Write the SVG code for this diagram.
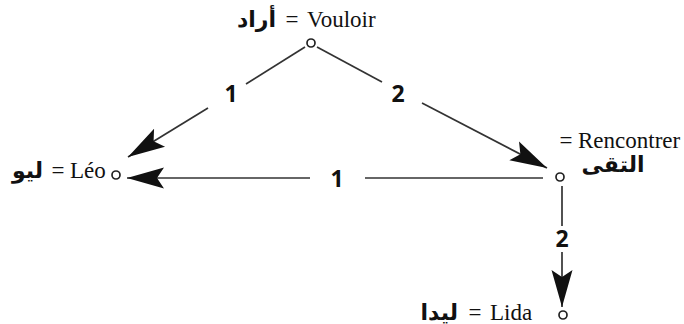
<svg xmlns="http://www.w3.org/2000/svg" width="684" height="324" viewBox="0 0 684 324">
<style>
.lat{font-family:"Liberation Serif","Times New Roman",serif;font-size:23px;fill:#111}
.ar{font-family:"DejaVu Sans",sans-serif;font-weight:bold;font-size:22px;fill:#111}
.num{font-family:"Open Sans","Liberation Sans",sans-serif;font-weight:bold;font-size:23px;fill:#111;text-anchor:middle}
.edge{stroke:#333;stroke-width:1.7;fill:none}
.node{fill:#fff;stroke:#222;stroke-width:1.7}
</style>
<defs>
<marker id="ah" markerUnits="userSpaceOnUse" orient="auto" refX="0" refY="0" markerWidth="44" markerHeight="26" viewBox="-40 -13 44 26" overflow="visible">
<path d="M0,0 L-37,-10.5 L-30,0 L-37,10.5 Z" fill="#111"/>
</marker>
</defs>
<rect width="684" height="324" fill="#fff"/>
<g id="connectors">
<g id="e-vouloir-leo">
<line class="edge" x1="305" y1="47" x2="246" y2="84"/>
<line class="edge" x1="208" y1="108" x2="128" y2="157" marker-end="url(#ah)"/>
<text class="num" x="231" y="102">1</text>
</g>
<g id="e-vouloir-rencontrer">
<line class="edge" x1="317" y1="47" x2="382" y2="82"/>
<line class="edge" x1="422" y1="103" x2="547" y2="168" marker-end="url(#ah)"/>
<text class="num" x="398" y="102">2</text>
</g>
<g id="e-rencontrer-leo">
<line class="edge" x1="543" y1="178" x2="365" y2="178"/>
<line class="edge" x1="310" y1="178" x2="127" y2="178" marker-end="url(#ah)"/>
<text class="num" x="337" y="187">1</text>
</g>
<g id="e-rencontrer-lida">
<line class="edge" x1="562" y1="186" x2="562" y2="226"/>
<line class="edge" x1="562" y1="252" x2="562" y2="307" marker-end="url(#ah)"/>
<text class="num" x="562" y="247">2</text>
</g>
</g>
<g id="n-vouloir">
<circle class="node" cx="311" cy="43" r="4"/>
<text class="ar" x="276" y="27" text-anchor="end">أراد</text>
<text class="lat" x="292" y="27" text-anchor="middle">=</text>
<text class="lat" x="307" y="27">Vouloir</text>
</g>
<g id="n-leo">
<circle class="node" cx="116" cy="175" r="4"/>
<text class="ar" x="43" y="178" text-anchor="end">ليو</text>
<text class="lat" x="58" y="178" text-anchor="middle">=</text>
<text class="lat" x="70" y="178">Léo</text>
</g>
<g id="n-rencontrer">
<circle class="node" cx="560" cy="177" r="4"/>
<text class="lat" x="566" y="148" text-anchor="middle">=</text>
<text class="lat" x="578" y="148">Rencontrer</text>
<text class="ar" x="613" y="172" text-anchor="middle">التقى</text>
</g>
<g id="n-lida">
<circle class="node" cx="563" cy="315" r="4"/>
<text class="ar" x="458" y="320" text-anchor="end">ليدا</text>
<text class="lat" x="475" y="320" text-anchor="middle">=</text>
<text class="lat" x="490" y="320">Lida</text>
</g>
</svg>
